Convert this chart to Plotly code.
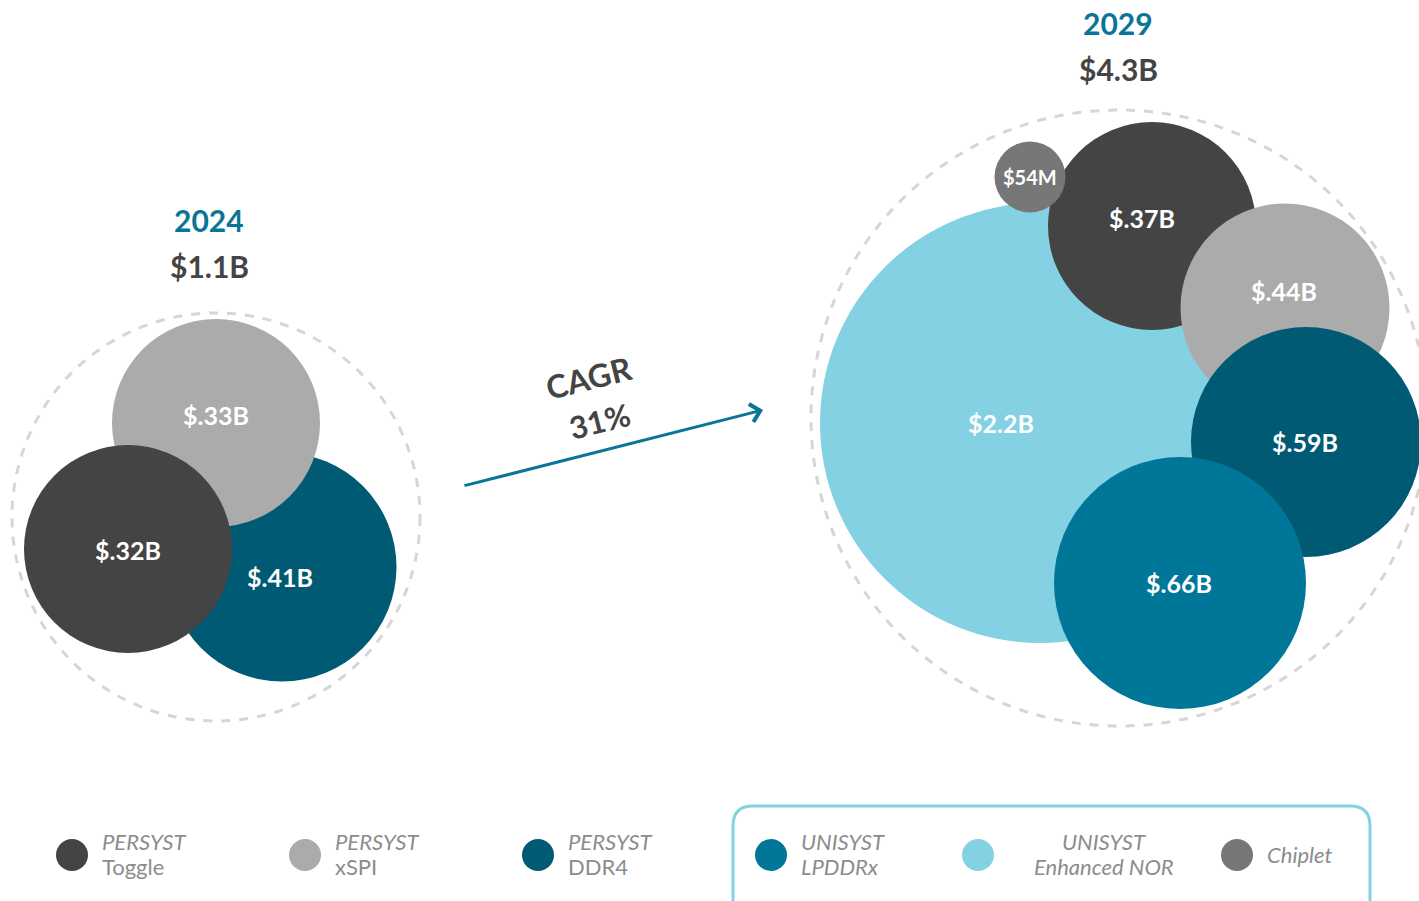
import plotly.graph_objects as go

# ---- data ----
categories = ["PERSYST Toggle", "PERSYST xSPI", "PERSYST DDR4",
              "UNISYST LPDDRx", "UNISYST Enhanced NOR", "Chiplet"]
values_2024 = {"PERSYST Toggle": 0.32, "PERSYST xSPI": 0.33, "PERSYST DDR4": 0.41}
values_2029 = {"PERSYST Toggle": 0.37, "PERSYST xSPI": 0.44, "PERSYST DDR4": 0.59,
               "UNISYST LPDDRx": 0.66, "UNISYST Enhanced NOR": 2.2, "Chiplet": 0.054}
total_2024 = 1.1
total_2029 = 4.3
cagr = 31

# ---- styles / layout ----
colors = {"PERSYST Toggle": "#444444", "PERSYST xSPI": "#ababab", "PERSYST DDR4": "#005a73",
          "UNISYST LPDDRx": "#007799", "UNISYST Enhanced NOR": "#84d1e3", "Chiplet": "#777777"}

def fmt(v):
    if v < 0.1:
        return "$%dM" % round(v * 1000)
    if v >= 1:
        return "$%.1fB" % v
    return "$.%02dB" % round(v * 100)

# bubble placement (pixel coordinates), drawing order, diameter, label position
layout_2024 = [("PERSYST DDR4", 282, 567, 229, 280, 577),
               ("PERSYST xSPI", 216, 423, 208, 216, 415),
               ("PERSYST Toggle", 128, 549, 208, 128, 550)]
layout_2029 = [("UNISYST Enhanced NOR", 1040, 423, 440, 1001, 423),
               ("PERSYST Toggle", 1152, 226, 208, 1142, 218),
               ("Chiplet", 1030, 177, 71, 1030, 177),
               ("PERSYST xSPI", 1285, 308, 209, 1284, 291),
               ("PERSYST DDR4", 1306, 442, 230, 1305, 442),
               ("UNISYST LPDDRx", 1180, 583, 252, 1179, 583)]

W, H = 1419, 901
fig = go.Figure()
annotations = []
shapes = []

# dashed group outlines
for cx, cy, r in [(216, 517, 204), (1119, 418, 308)]:
    shapes.append(dict(type="circle", xref="x", yref="y", x0=cx - r, x1=cx + r,
                       y0=cy - r, y1=cy + r, line=dict(color="#d6d6d6", width=3, dash="dash"),
                       layer="below"))

for lay, vals in [(layout_2024, values_2024), (layout_2029, values_2029)]:
    for cat, cx, cy, d, lx, ly in lay:
        fig.add_trace(go.Scatter(x=[cx], y=[cy], mode="markers",
                                 marker=dict(size=d, color=colors[cat], opacity=1,
                                             line=dict(width=0)),
                                 hoverinfo="skip", showlegend=False, cliponaxis=False))
        annotations.append(dict(x=lx, y=ly, xref="x", yref="y", text="<b>%s</b>" % fmt(vals[cat]),
                                showarrow=False,
                                font=dict(family="Lato", size=25 if d > 100 else 20, color="white")))

# titles
for x, yr, yt, year, tot in [(209, 220, 266, "2024", total_2024), (1118, 23, 69, "2029", total_2029)]:
    annotations.append(dict(x=x, y=yr, xref="x", yref="y", text="<b>%s</b>" % year, showarrow=False,
                            font=dict(family="Lato", size=30, color="#0a7596"), borderpad=0))
    annotations.append(dict(x=x, y=yt, xref="x", yref="y", text="<b>$%.1fB</b>" % tot, showarrow=False,
                            font=dict(family="Lato", size=30, color="#444444")))

# CAGR arrow
annotations.append(dict(x=763, y=410, ax=463, ay=486, xref="x", yref="y", axref="x", ayref="y",
                        showarrow=True, arrowhead=4, arrowsize=1.2, arrowwidth=3,
                        arrowcolor="#0a7596", text=""))
annotations.append(dict(x=588, y=377, xref="x", yref="y", text="<b>CAGR</b>", showarrow=False,
                        textangle=-14, font=dict(family="Lato", size=32, color="#444444")))
annotations.append(dict(x=599, y=421, xref="x", yref="y", text="<b>%d%%</b>" % cagr, showarrow=False,
                        textangle=-14, font=dict(family="Lato", size=31, color="#444444")))

# legend
legend_items = [("PERSYST Toggle", 72, 100, "left"), ("PERSYST xSPI", 305, 333, "left"),
                ("PERSYST DDR4", 538, 566, "left"), ("UNISYST LPDDRx", 771, 799, "left"),
                ("UNISYST Enhanced NOR", 978, 1104, "center"), ("Chiplet", 1237, 1265, "left")]
for cat, mx, tx, align in legend_items:
    fig.add_trace(go.Scatter(x=[mx], y=[855], mode="markers",
                             marker=dict(size=32, color=colors[cat], line=dict(width=0)),
                             hoverinfo="skip", showlegend=False))
    parts = cat.split(" ", 1)
    xanchor = "center" if align == "center" else "left"
    fnt = dict(family="Lato", size=22, color="#8c8c8c")
    if len(parts) == 1:
        annotations.append(dict(x=tx, y=854, xref="x", yref="y", text="<i>%s</i>" % cat,
                                showarrow=False, xanchor=xanchor, font=fnt))
    else:
        second = "<i>%s</i>" % parts[1] if parts[0] == "UNISYST" else parts[1]
        annotations.append(dict(x=tx, y=841, xref="x", yref="y", text="<i>%s</i>" % parts[0],
                                showarrow=False, xanchor=xanchor, font=fnt))
        annotations.append(dict(x=tx, y=866, xref="x", yref="y", text=second,
                                showarrow=False, xanchor=xanchor, font=fnt))

shapes.append(dict(type="path", xref="x", yref="y",
                   path="M 733 920 L 733 826 Q 733 806 753 806 L 1350 806 Q 1370 806 1370 826 L 1370 920",
                   line=dict(color="#84d1e3", width=3), layer="below"))

fig.update_layout(width=W, height=H, margin=dict(l=0, r=0, t=0, b=0),
                  paper_bgcolor="white", plot_bgcolor="white",
                  xaxis=dict(range=[0, W], visible=False, fixedrange=True),
                  yaxis=dict(range=[H, 0], visible=False, fixedrange=True),
                  shapes=shapes, annotations=annotations)
fig.write_html("out.html", config={"displayModeBar": False},
               post_script="document.body.style.margin='0';document.body.style.overflow='hidden';")
